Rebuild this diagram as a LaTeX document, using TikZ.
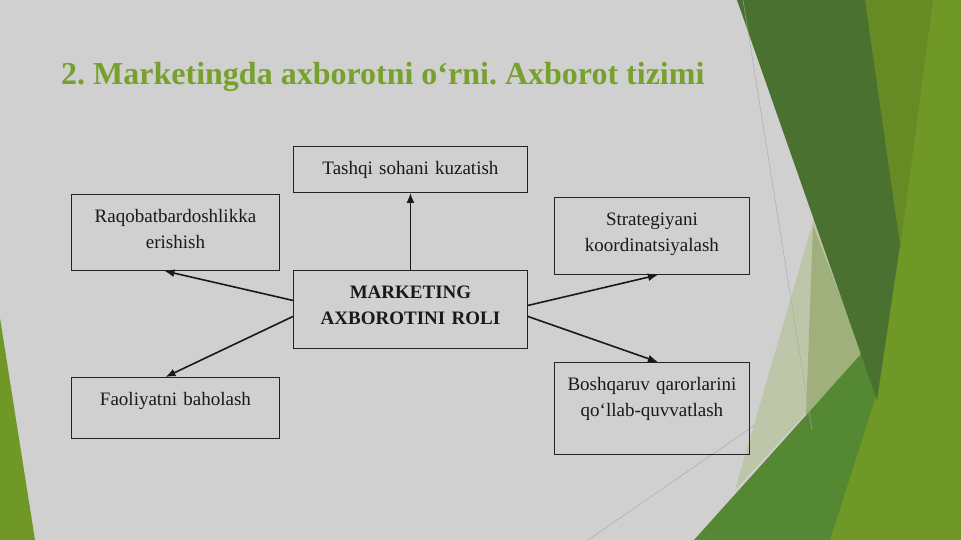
\documentclass[tikz,border=0pt]{standalone}
\usepackage{fontspec}
\setmainfont{Liberation Serif}
\usetikzlibrary{arrows.meta}
\frenchspacing

\definecolor{slidegray}{RGB}{208,208,208}
\definecolor{titlegreen}{RGB}{120,160,45}
\definecolor{leafolive}{RGB}{112,152,38}
\definecolor{darkolive}{RGB}{103,139,36}
\definecolor{leafdark}{RGB}{75,113,49}
\definecolor{leafmid}{RGB}{84,136,50}
\definecolor{leafpale}{RGB}{190,198,170}
\definecolor{leafsage}{RGB}{160,176,125}
\definecolor{boxline}{RGB}{35,35,35}

\begin{document}
\begin{tikzpicture}[x=1pt,y=-1pt]
\tikzstyle{heading} = [anchor=base west, inner sep=0pt, text=titlegreen,
font=\fontsize{32}{36}\selectfont\bfseries]
\tikzstyle{block} = [rectangle, draw=boxline, line width=0.9pt, inner sep=0pt,
text height=28pt, text centered, anchor=north west, text=black!90,
font=\fontsize{19}{26}\selectfont]
\tikzstyle{line} = [draw=black!90, line width=1.6pt, -{Latex[length=10pt,width=8pt]}];

\useasboundingbox (0,0) rectangle (961,540);
\fill[slidegray] (0,0) rectangle (961,540);

% slide decoration
\fill[leafolive] (0,318) -- (35,540) -- (0,540) -- cycle;
\fill[leafolive] (855,0) -- (961,0) -- (961,540) -- (815,540) -- cycle;
\fill[darkolive] (862,0) -- (933,0) -- (900,250) -- cycle;
\fill[leafpale] (815,215) -- (862,353) -- (735,490) -- cycle;
\fill[leafsage] (813,225) -- (862,353) -- (806,415) -- cycle;
\fill[leafmid] (694,540) -- (862,353) -- (877,393) -- (830,540) -- cycle;
\fill[leafdark] (737,0) -- (865,0) -- (900,245) -- (877,400) -- cycle;
\draw[gray!70, line width=0.4pt] (743,0) -- (812,430);
\draw[gray!70, line width=0.4pt] (588,540) -- (755,425);

% title
\node [heading] (title) at (61,85) {2. Marketingda axborotni o‘rni. Axborot tizimi};

% boxes
\node [block, text width=234pt, text depth=18pt] (tashqi) at (293,146) {Tashqi sohani kuzatish};
\node [block, text width=208pt, text depth=48pt] (raqobat) at (71,194) {Raqobatbardoshlikka\\ erishish};
\node [block, text width=234pt, text depth=50pt, font=\fontsize{19}{26}\selectfont\bfseries] (centre) at (293,270) {MARKETING\\ AXBOROTINI ROLI};
\node [block, text width=195pt, text depth=49pt] (strat) at (554,197) {Strategiyani\\ koordinatsiyalash};
\node [block, text width=208pt, text depth=33pt] (faoliyat) at (71,377) {Faoliyatni baholash};
\node [block, text width=195pt, text depth=64pt] (boshqaruv) at (554,362) {Boshqaruv qarorlarini\\ qo‘llab-quvvatlash};

\tikzstyle{every path}=[line]
\path (centre) -- (tashqi);
\path ([yshift=9pt]centre.west) -- ([xshift=-11pt]raqobat.south);
\path ([yshift=-7pt]centre.west) -- ([xshift=-10pt]faoliyat.north);
\path ([yshift=4pt]centre.east) -- ([xshift=6pt]strat.south);
\path ([yshift=-7pt]centre.east) -- ([xshift=6pt]boshqaruv.north);

\end{tikzpicture}
\end{document}
